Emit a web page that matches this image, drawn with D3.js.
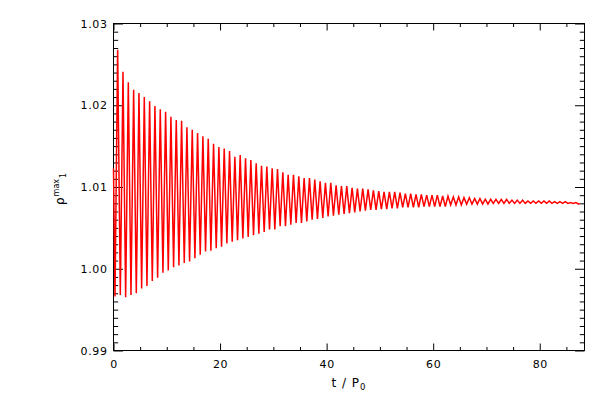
<!DOCTYPE html>
<html>
<head>
<meta charset="utf-8">
<script src="https://cdn.jsdelivr.net/npm/d3@7"></script>
<style>
  html, body { margin: 0; padding: 0; background: #fff; }
  svg { display: block; }
  text { font-family: "DejaVu Sans", sans-serif; fill: #000; }
</style>
</head>
<body>
<svg id="chart" width="600" height="400"></svg>
<script>
// ---- data ----
const xMajorTicks = [0, 20, 40, 60, 80];
const yMajorTicks = [0.99, 1.00, 1.01, 1.02, 1.03];
const yTickLabels = ["0.99", "1.00", "1.01", "1.02", "1.03"];

const startPoint = [0, 1.0123];
const endPoint = [87.5, 1.0080];

// times of the oscillation maxima (t / P0)
const peakT = [0.78, 1.78, 2.78, 3.78, 4.78, 5.78, 6.78, 7.78, 8.78, 9.78,
  10.78, 11.78, 12.78, 13.78, 14.78, 15.78, 16.78, 17.78, 18.78, 19.78,
  20.78, 21.78, 22.78, 23.78, 24.78, 25.78, 26.78, 27.78, 28.78, 29.78,
  30.78, 31.78, 32.78, 33.78, 34.78, 35.78, 36.78, 37.78, 38.78, 39.78,
  40.78, 41.78, 42.78, 43.78, 44.78, 45.78, 46.78, 47.78, 48.78, 49.78,
  50.78, 51.78, 52.78, 53.78, 54.78, 55.78, 56.78, 57.78, 58.78, 59.78,
  60.78, 61.78, 62.78, 63.78, 64.78, 65.78, 66.78, 67.78, 68.78, 69.78,
  70.78, 71.78, 72.78, 73.78, 74.78, 75.78, 76.78, 77.78, 78.78, 79.78,
  80.78, 81.78, 82.78, 83.78, 84.78, 85.78, 86.78];
// values of the maxima
const peakV = [1.0268, 1.0241, 1.0228, 1.0219, 1.0215, 1.0210, 1.0205, 1.0199, 1.0195, 1.0192,
  1.0186, 1.0182, 1.0181, 1.0173, 1.0170, 1.0166, 1.0162, 1.0159, 1.0153, 1.0149,
  1.0147, 1.0144, 1.0137, 1.0139, 1.0135, 1.0133, 1.0129, 1.0126, 1.0125, 1.0123,
  1.0122, 1.0118, 1.0115, 1.0115, 1.0113, 1.0111, 1.0111, 1.0109, 1.0107, 1.0105,
  1.0105, 1.0102, 1.0101, 1.0101, 1.0099, 1.0098, 1.0098, 1.0097, 1.0096, 1.0095,
  1.0094, 1.0094, 1.0094, 1.0093, 1.0092, 1.0092, 1.0091, 1.0091, 1.0090, 1.0090,
  1.0090, 1.0089, 1.0089, 1.0088, 1.0088, 1.0087, 1.0087, 1.0086, 1.0086, 1.0085,
  1.0085, 1.0085, 1.0085, 1.0085, 1.0084, 1.0084, 1.0084, 1.0083, 1.0083, 1.0083,
  1.0083, 1.0083, 1.0082, 1.0082, 1.0082, 1.0081, 1.0081];

// times of the oscillation minima (t / P0)
const troughT = [0.28, 1.28, 2.28, 3.28, 4.28, 5.28, 6.28, 7.28, 8.28, 9.28,
  10.28, 11.28, 12.28, 13.28, 14.28, 15.28, 16.28, 17.28, 18.28, 19.28,
  20.28, 21.28, 22.28, 23.28, 24.28, 25.28, 26.28, 27.28, 28.28, 29.28,
  30.28, 31.28, 32.28, 33.28, 34.28, 35.28, 36.28, 37.28, 38.28, 39.28,
  40.28, 41.28, 42.28, 43.28, 44.28, 45.28, 46.28, 47.28, 48.28, 49.28,
  50.28, 51.28, 52.28, 53.28, 54.28, 55.28, 56.28, 57.28, 58.28, 59.28,
  60.28, 61.28, 62.28, 63.28, 64.28, 65.28, 66.28, 67.28, 68.28, 69.28,
  70.28, 71.28, 72.28, 73.28, 74.28, 75.28, 76.28, 77.28, 78.28, 79.28,
  80.28, 81.28, 82.28, 83.28, 84.28, 85.28, 86.28, 87.28];
// values of the minima
const troughV = [0.9966, 0.9968, 0.9965, 0.9968, 0.9970, 0.9976, 0.9979, 0.9985, 0.9989, 0.9995,
  0.9998, 1.0002, 1.0004, 1.0007, 1.0009, 1.0013, 1.0017, 1.0021, 1.0022, 1.0025,
  1.0027, 1.0031, 1.0033, 1.0035, 1.0037, 1.0039, 1.0041, 1.0043, 1.0045, 1.0048,
  1.0048, 1.0052, 1.0052, 1.0054, 1.0056, 1.0056, 1.0058, 1.0060, 1.0061, 1.0062,
  1.0064, 1.0065, 1.0066, 1.0067, 1.0068, 1.0069, 1.0070, 1.0071, 1.0072, 1.0072,
  1.0073, 1.0073, 1.0074, 1.0074, 1.0075, 1.0075, 1.0075, 1.0075, 1.0076, 1.0076,
  1.0076, 1.0076, 1.0076, 1.0078, 1.0078, 1.0078, 1.0079, 1.0079, 1.0079, 1.0079,
  1.0079, 1.0080, 1.0080, 1.0080, 1.0080, 1.0080, 1.0080, 1.0080, 1.0080, 1.0080,
  1.0080, 1.0080, 1.0080, 1.0080, 1.0080, 1.0080, 1.0080, 1.0079];

// ---- build ----
const svg = d3.select("#chart");
const L = 113.5, R = 584.5, T = 23.5, B = 350.5;

const x = d3.scaleLinear().domain([0, 88.4]).range([L, R]);
const y = d3.scaleLinear().domain([0.99, 1.03]).range([B, T]);

const pts = [startPoint];
peakT.forEach((t, i) => pts.push([t, peakV[i]]));
troughT.forEach((t, i) => pts.push([t, troughV[i]]));
pts.push(endPoint);
pts.sort((a, b) => a[0] - b[0]);

// minor tick values derived from the major ticks
const xMinor = d3.range(0, 88.4, 5).filter(v => v % 20 !== 0);
const yMinor = d3.range(0, 41).map(i => 0.99 + i * 0.001)
  .filter(v => yMajorTicks.every(m => Math.abs(m - v) > 1e-6));

function styleAxis(g) {
  g.select(".domain").remove();
  g.selectAll("line").attr("stroke", "#000").attr("stroke-width", 1);
  g.selectAll("text").attr("font-size", 11).attr("letter-spacing", "0.6px")
    .style("font-family", '"DejaVu Sans", sans-serif');
}

// bottom axis
svg.append("g").attr("transform", `translate(0,${B})`)
  .call(d3.axisBottom(x).tickValues(xMajorTicks).tickSizeInner(-7).tickSizeOuter(0)
    .tickPadding(10).tickFormat(d3.format("d")))
  .call(styleAxis);
svg.append("g").attr("transform", `translate(0,${B})`)
  .call(d3.axisBottom(x).tickValues(xMinor).tickSizeInner(-3.5).tickSizeOuter(0).tickFormat(""))
  .call(styleAxis);
// top axis
svg.append("g").attr("transform", `translate(0,${T})`)
  .call(d3.axisTop(x).tickValues(xMajorTicks).tickSizeInner(-7).tickSizeOuter(0).tickFormat(""))
  .call(styleAxis);
svg.append("g").attr("transform", `translate(0,${T})`)
  .call(d3.axisTop(x).tickValues(xMinor).tickSizeInner(-3.5).tickSizeOuter(0).tickFormat(""))
  .call(styleAxis);
// left axis
svg.append("g").attr("transform", `translate(${L},0)`)
  .call(d3.axisLeft(y).tickValues(yMajorTicks).tickSizeInner(-9.5).tickSizeOuter(0)
    .tickPadding(6).tickFormat((d, i) => yTickLabels[i]))
  .call(styleAxis);
svg.append("g").attr("transform", `translate(${L},0)`)
  .call(d3.axisLeft(y).tickValues(yMinor).tickSizeInner(-4.7).tickSizeOuter(0).tickFormat(""))
  .call(styleAxis);
// right axis
svg.append("g").attr("transform", `translate(${R},0)`)
  .call(d3.axisRight(y).tickValues(yMajorTicks).tickSizeInner(-9.5).tickSizeOuter(0).tickFormat(""))
  .call(styleAxis);
svg.append("g").attr("transform", `translate(${R},0)`)
  .call(d3.axisRight(y).tickValues(yMinor).tickSizeInner(-4.7).tickSizeOuter(0).tickFormat(""))
  .call(styleAxis);

// frame
svg.append("rect").attr("x", L).attr("y", T).attr("width", R - L).attr("height", B - T)
  .attr("fill", "none").attr("stroke", "#000").attr("stroke-width", 1);

// data line
svg.append("path")
  .datum(pts)
  .attr("fill", "none")
  .attr("stroke", "#ff0000")
  .attr("stroke-width", 1.5)
  .attr("stroke-linejoin", "miter")
  .attr("d", d3.line().x(d => x(d[0])).y(d => y(d[1])));

// x title
const xt = svg.append("text").attr("x", (L + R) / 2).attr("y", 387)
  .attr("text-anchor", "middle").attr("font-size", 12).attr("letter-spacing", "1px")
  .attr("xml:space", "preserve");
xt.append("tspan").text("t / P");
xt.append("tspan").attr("font-size", 8.5).attr("dy", 3).text("0");

// y title
const yt = svg.append("text")
  .attr("transform", "translate(64,205) rotate(-90)")
  .attr("font-size", 12);
yt.append("tspan").text("ρ");
yt.append("tspan").attr("font-size", 8).attr("dy", -5).attr("dx", 1).text("max");
yt.append("tspan").attr("font-size", 8).attr("dy", 7).attr("dx", 1).text("1");
</script>
</body>
</html>
